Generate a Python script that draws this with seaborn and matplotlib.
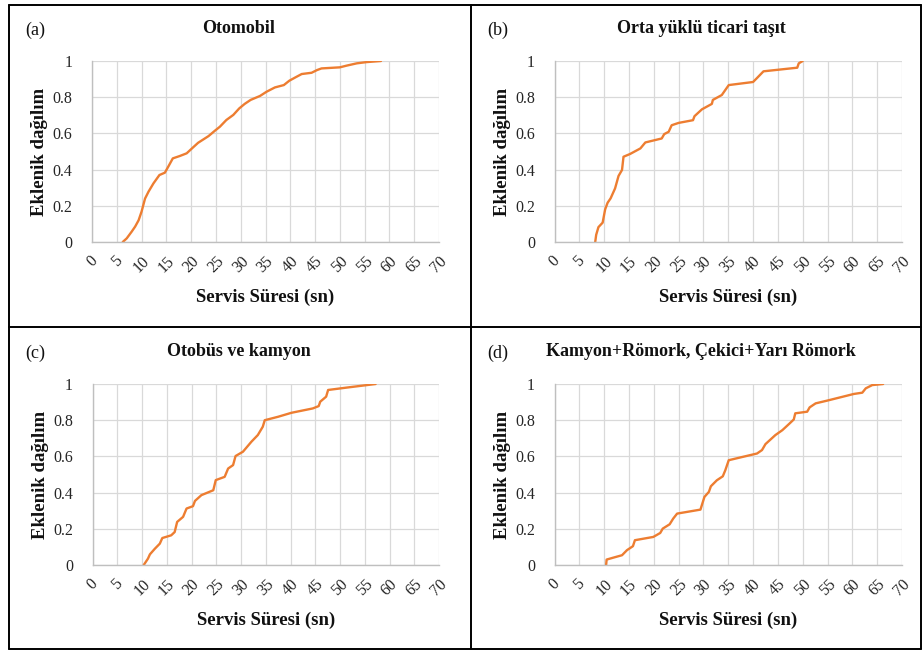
import matplotlib
matplotlib.use("Agg")
import matplotlib.pyplot as plt
import seaborn as sns
import pandas as pd
from matplotlib.lines import Line2D

# ---- data ----
a_x = [6.2, 7.0, 8.0, 8.7, 9.4, 10.0, 10.7, 11.4, 12.4, 13.6, 14.7, 15.4, 16.3, 17.7, 19.1, 20.4,
       21.4, 23.5, 24.8, 25.8, 27.1, 28.5, 29.7, 30.8, 32.0, 33.9, 35.2, 36.9, 38.7, 39.8, 41.0,
       42.3, 44.3, 45.4, 46.3, 50.0, 51.3, 53.4, 55.4, 58.3]
a_y = [0.0, 0.02, 0.057, 0.085, 0.12, 0.168, 0.24, 0.278, 0.324, 0.37, 0.383, 0.417, 0.462, 0.475,
       0.49, 0.523, 0.548, 0.585, 0.615, 0.637, 0.674, 0.702, 0.738, 0.763, 0.785, 0.807, 0.83,
       0.854, 0.867, 0.891, 0.909, 0.928, 0.935, 0.95, 0.959, 0.965, 0.974, 0.987, 0.994, 1.0]

b_x = [8.2, 8.4, 8.85, 9.7, 10.2, 10.7, 11.3, 12.2, 12.9, 13.6, 13.9, 15.2, 17.3, 18.3, 21.6, 22.1,
       23.0, 23.6, 25.0, 27.9, 28.2, 29.7, 31.7, 31.9, 33.7, 35.1, 40.0, 40.9, 42.1, 48.9, 49.2, 50.0]
b_y = [0.0, 0.04, 0.082, 0.107, 0.18, 0.217, 0.241, 0.296, 0.365, 0.398, 0.471, 0.486, 0.517, 0.55,
       0.572, 0.596, 0.609, 0.645, 0.658, 0.673, 0.695, 0.733, 0.763, 0.785, 0.812, 0.867, 0.884,
       0.909, 0.943, 0.963, 0.987, 1.0]

c_x = [10.35, 11.2, 11.6, 12.6, 13.6, 14.1, 15.9, 16.6, 17.1, 18.3, 19.0, 20.3, 20.7, 22.0, 24.4,
       24.9, 26.7, 27.4, 28.4, 28.9, 30.4, 32.1, 33.4, 34.4, 34.8, 37.5, 40.2, 44.5, 45.7, 46.0,
       47.2, 47.6, 51.3, 57.2]
c_y = [0.0, 0.035, 0.059, 0.09, 0.118, 0.149, 0.164, 0.182, 0.238, 0.266, 0.312, 0.325, 0.354,
       0.386, 0.413, 0.469, 0.487, 0.533, 0.552, 0.602, 0.626, 0.681, 0.718, 0.764, 0.8, 0.819,
       0.841, 0.865, 0.878, 0.902, 0.93, 0.967, 0.98, 1.0]

d_x = [10.4, 10.5, 11.9, 13.6, 14.6, 15.8, 16.2, 19.9, 21.3, 21.8, 23.2, 23.9, 24.7, 29.4, 30.2,
       31.1, 31.5, 32.7, 33.9, 34.4, 35.1, 37.4, 40.8, 41.8, 42.5, 44.5, 45.9, 47.2, 48.2, 48.5,
       50.9, 51.4, 52.6, 54.9, 60.3, 62.0, 62.7, 64.0, 66.2]
d_y = [0.0, 0.03, 0.041, 0.054, 0.082, 0.104, 0.137, 0.155, 0.177, 0.201, 0.225, 0.256, 0.284,
       0.306, 0.376, 0.404, 0.435, 0.468, 0.49, 0.523, 0.579, 0.594, 0.616, 0.635, 0.668, 0.718,
       0.745, 0.778, 0.804, 0.838, 0.847, 0.871, 0.893, 0.908, 0.945, 0.952, 0.976, 0.994, 1.0]

panel_tags = ["(a)", "(b)", "(c)", "(d)"]
titles = ["Otomobil", "Orta yüklü ticari taşıt", "Otobüs ve kamyon",
          "Kamyon+Römork, Çekici+Yarı Römork"]
x_ticks = list(range(0, 75, 5))
y_ticks = [0, 0.2, 0.4, 0.6, 0.8, 1.0]
y_ticklabels = ["0", "0.2", "0.4", "0.6", "0.8", "1"]
xlabel = "Servis Süresi (sn)"
ylabel = "Eklenik dağılım"

series = [(a_x, a_y), (b_x, b_y), (c_x, c_y), (d_x, d_y)]

# ---- style ----
sns.set_style("white")
plt.rcParams["font.family"] = ["Liberation Serif", "DejaVu Serif"]

W, H = 922, 650
fig = plt.figure(figsize=(W / 100, H / 100), dpi=100)

def fx(px):
    return px / W

def fy(py):
    return 1 - py / H

# pixel geometry: (left, top, right, bottom) of plot areas
boxes = [(92, 61, 439, 242), (554.5, 61, 902, 242),
         (92.5, 384, 439, 565), (554.5, 384, 902, 565)]
cell_left = [8.5, 470.5, 8.5, 470.5]
cell_top = [4.5, 4.5, 327, 327]
title_cx = [239, 701, 239, 701]

orange = "#ED7D31"
grid_c = "#D9D9D9"
axis_c = "#BFBFBF"

for i, ((l, t, r, b), (xs, ys)) in enumerate(zip(boxes, series)):
    ax = fig.add_axes([fx(l), fy(b), (r - l) / W, (b - t) / H])
    df = pd.DataFrame({"x": xs, "y": ys})
    sns.lineplot(data=df, x="x", y="y", ax=ax, color=orange, linewidth=1.7,
                 sort=False, estimator=None)
    ax.set_xlim(0, 70)
    ax.set_ylim(0, 1)
    ax.set_xticks(x_ticks)
    ax.set_xticklabels([str(v) for v in x_ticks], rotation=45, ha="center", va="top",
                       fontsize=11.5, color="#262626")
    ax.set_yticks(y_ticks)
    ax.set_yticklabels(y_ticklabels, fontsize=11.5, color="#262626")
    ax.tick_params(axis="x", length=0, pad=8)
    ax.tick_params(axis="y", length=0, pad=14)
    ax.grid(True, color=grid_c, linewidth=0.9)
    ax.set_axisbelow(True)
    for s in ["top", "right"]:
        ax.spines[s].set_visible(False)
    for s in ["left", "bottom"]:
        ax.spines[s].set_color(axis_c)
        ax.spines[s].set_linewidth(1.0)
    ax.set_xlabel("")
    ax.set_ylabel("")

    ct = cell_top[i]
    fig.text(fx(cell_left[i] + 17), fy(ct + 26), panel_tags[i], fontsize=13,
             ha="left", va="center", color="#111111")
    fig.text(fx(title_cx[i]), fy(ct + 24), titles[i], fontsize=13, fontweight="bold",
             ha="center", va="center", color="#111111")
    fig.text(fx((l + r) / 2), fy(b + 55), xlabel, fontsize=13.5, fontweight="bold",
             ha="center", va="center", color="#111111")
    fig.text(fx(l - 52), fy((t + b) / 2), ylabel, fontsize=13.5, fontweight="bold",
             rotation=90, ha="center", va="center", color="#111111")

# table borders
lw = 1.4
for (x0, y0, x1, y1) in [(8.5, 4.5, 921, 4.5), (8.5, 648.5, 921, 648.5),
                         (8.5, 4.5, 8.5, 648.5), (921, 4.5, 921, 648.5),
                         (470.5, 4.5, 470.5, 648.5), (8.5, 327, 921, 327)]:
    fig.add_artist(Line2D([fx(x0), fx(x1)], [fy(y0), fy(y1)], color="black", linewidth=lw))

fig.savefig("out.png", dpi=100)
